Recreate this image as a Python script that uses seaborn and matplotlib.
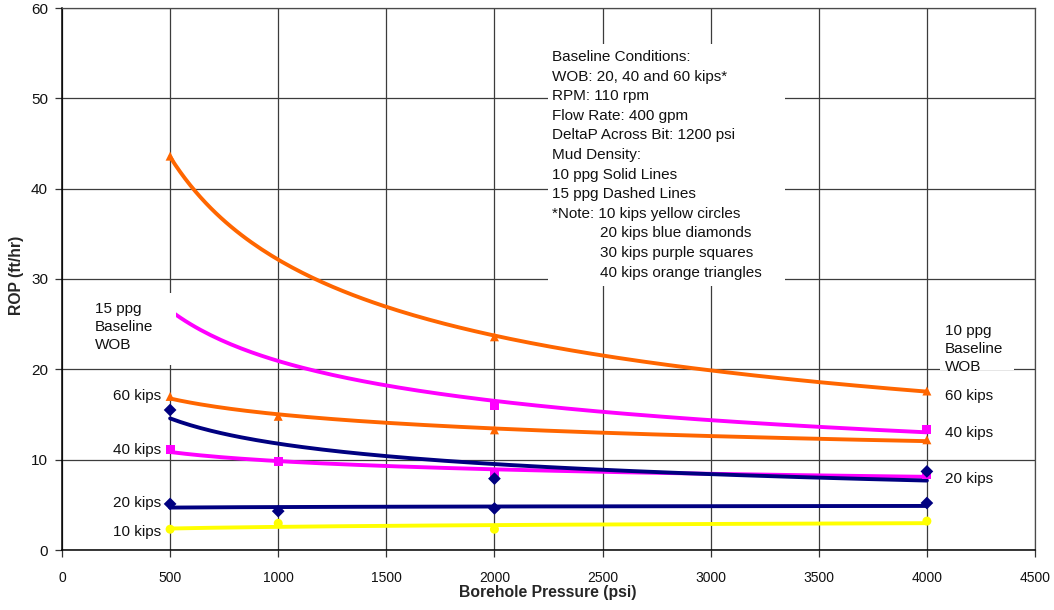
import numpy as np
import pandas as pd
import matplotlib
matplotlib.use("Agg")
import matplotlib.pyplot as plt
from matplotlib.patches import Rectangle
import seaborn as sns

# Borehole pressure (psi) at which ROP was computed
pressure_10ppg = [500, 2000, 4000]
pressure_15ppg = [500, 1000, 2000, 4000]

# ROP (ft/hr) with 10 ppg mud
rop_10ppg_20kips = [15.5, 7.9, 8.7]
rop_10ppg_40kips = [26.8, 16.0, 13.3]
rop_10ppg_60kips = [43.6, 23.6, 17.6]

# ROP (ft/hr) with 15 ppg mud
rop_15ppg_10kips = [2.3, 2.95, 2.3, 3.2]
rop_15ppg_20kips = [5.1, 4.3, 4.6, 5.2]
rop_15ppg_40kips = [11.1, 9.75, 8.5, 8.4]
rop_15ppg_60kips = [17.0, 14.8, 13.3, 12.2]

x_ticks = [0, 500, 1000, 1500, 2000, 2500, 3000, 3500, 4000, 4500]
y_ticks = [0, 10, 20, 30, 40, 50, 60]

left_wob_labels = ["60 kips", "40 kips", "20 kips", "10 kips"]
right_wob_labels = ["60 kips", "40 kips", "20 kips"]

conditions_lines = [
    ("Baseline Conditions:", False),
    ("WOB: 20, 40 and 60 kips*", False),
    ("RPM: 110 rpm", False),
    ("Flow Rate: 400 gpm", False),
    ("DeltaP Across Bit: 1200 psi", False),
    ("Mud Density:", False),
    ("10 ppg Solid Lines", False),
    ("15 ppg Dashed Lines", False),
    ("*Note: 10 kips yellow circles", False),
    ("20 kips blue diamonds", True),
    ("30 kips purple squares", True),
    ("40 kips orange triangles", True),
]

wob_colors = {"10 kips": "#FFFF00", "20 kips": "#000080",
              "40 kips": "#FF00FF", "60 kips": "#FF6600"}
wob_markers = {"10 kips": "o", "20 kips": "D", "40 kips": "s", "60 kips": "^"}

series = [
    ("15 ppg", "10 kips", pressure_15ppg, rop_15ppg_10kips),
    ("15 ppg", "20 kips", pressure_15ppg, rop_15ppg_20kips),
    ("15 ppg", "40 kips", pressure_15ppg, rop_15ppg_40kips),
    ("10 ppg", "20 kips", pressure_10ppg, rop_10ppg_20kips),
    ("15 ppg", "60 kips", pressure_15ppg, rop_15ppg_60kips),
    ("10 ppg", "40 kips", pressure_10ppg, rop_10ppg_40kips),
    ("10 ppg", "60 kips", pressure_10ppg, rop_10ppg_60kips),
]

rows = []
for mud, wob, p, r in series:
    for pi, ri in zip(p, r):
        rows.append(dict(series=f"{mud} {wob}", wob=wob, pressure=pi, rop=ri))
points = pd.DataFrame(rows)

# Power-law trend line (y = a * x^b) fitted to each series in log-log space
trend_rows = []
for name, grp in points.groupby("series", sort=False):
    b, log_a = np.polyfit(np.log(grp["pressure"]), np.log(grp["rop"]), 1)
    xs = np.linspace(grp["pressure"].min(), grp["pressure"].max(), 150)
    for xv in xs:
        trend_rows.append(dict(series=name, pressure=xv, rop=np.exp(log_a) * xv ** b))
trend = pd.DataFrame(trend_rows)

series_order = [f"{m} {w}" for m, w, _, _ in series]
palette = {f"{m} {w}": wob_colors[w] for m, w, _, _ in series}
markers = {f"{m} {w}": wob_markers[w] for m, w, _, _ in series}

sns.set_theme(style="white")
plt.rcParams["font.family"] = ["Liberation Sans", "DejaVu Sans"]

fig = plt.figure(figsize=(10.54, 6.10), dpi=100)
ax = fig.add_axes([62 / 1054, 60 / 610, (1035 - 62) / 1054, (550 - 8) / 610])

sns.lineplot(data=trend, x="pressure", y="rop", hue="series", hue_order=series_order,
             palette=palette, linewidth=2.8, estimator=None, sort=False,
             legend=False, ax=ax, zorder=2)
sns.scatterplot(data=points, x="pressure", y="rop", hue="series", hue_order=series_order,
                style="series", style_order=series_order, markers=markers,
                palette=palette, s=42, linewidth=0, legend=False, ax=ax, zorder=3)

ax.set_xlim(0, 4500)
ax.set_ylim(0, 60)
ax.set_xticks(x_ticks)
ax.set_yticks(y_ticks)
ax.grid(True, color="#3c3c3c", linewidth=0.9)
ax.set_axisbelow(True)
for side in ("left", "bottom"):
    ax.spines[side].set_color("black")
    ax.spines[side].set_linewidth(1.1)
for side in ("right", "top"):
    ax.spines[side].set_color("#4a4a4a")
    ax.spines[side].set_linewidth(0.9)
ax.tick_params(axis="both", which="major", direction="out", length=5, width=0.9,
               color="#333333", labelcolor="#111111", bottom=True, left=True)
ax.tick_params(axis="x", pad=10, labelsize=10)
ax.tick_params(axis="y", pad=5, labelsize=11)

ax.set_xlabel("Borehole Pressure (psi)", fontsize=11.3, fontweight="bold")
ax.set_ylabel("ROP (ft/hr)", fontsize=11.3, fontweight="bold")
ax.xaxis.set_label_coords(0.4995, -0.064)
ax.yaxis.set_label_coords(-0.039, 0.507)

# Pixel-to-data helpers for annotation placement
def px_x(px):
    return (px - 62) / 973 * 4500

def px_y(py):
    return (550 - py) / 542 * 60

# White label panels
left_box = Rectangle((px_x(80), px_y(365)), px_x(176) - px_x(80), px_y(293) - px_y(365),
                     facecolor="white", edgecolor="none", zorder=4)
right_box = Rectangle((px_x(940), px_y(370)), px_x(1014) - px_x(940), px_y(318) - px_y(370),
                      facecolor="white", edgecolor="none", zorder=4)
cond_box = Rectangle((px_x(548), px_y(286)), px_x(785) - px_x(548), px_y(44) - px_y(286),
                     facecolor="white", edgecolor="none", zorder=4)
for r in (left_box, right_box, cond_box):
    ax.add_patch(r)

fs = 11
ax.text(px_x(95), px_y(327), "15 ppg\nBaseline\nWOB", fontsize=fs, ha="left", va="center",
        linespacing=1.36, color="#111111", zorder=5)
t = ax.text(px_x(945), px_y(349), "10 ppg\nBaseline\nWOB", fontsize=fs, ha="left", va="center",
            linespacing=1.36, color="#111111", zorder=5)
t.set_clip_path(right_box)

for label, py in zip(left_wob_labels, [396, 450, 503, 532]):
    ax.text(px_x(161), px_y(py), label, fontsize=fs, ha="right", va="center",
            color="#111111", zorder=5)
for label, py in zip(right_wob_labels, [396, 433, 479]):
    ax.text(px_x(945), px_y(py), label, fontsize=fs, ha="left", va="center",
            color="#111111", zorder=5)

for i, (line, indent) in enumerate(conditions_lines):
    ax.text(px_x(600 if indent else 552), px_y(57 + 19.6 * i), line, fontsize=fs,
            ha="left", va="center", color="#111111", zorder=5)

fig.savefig("out.png", dpi=100)
